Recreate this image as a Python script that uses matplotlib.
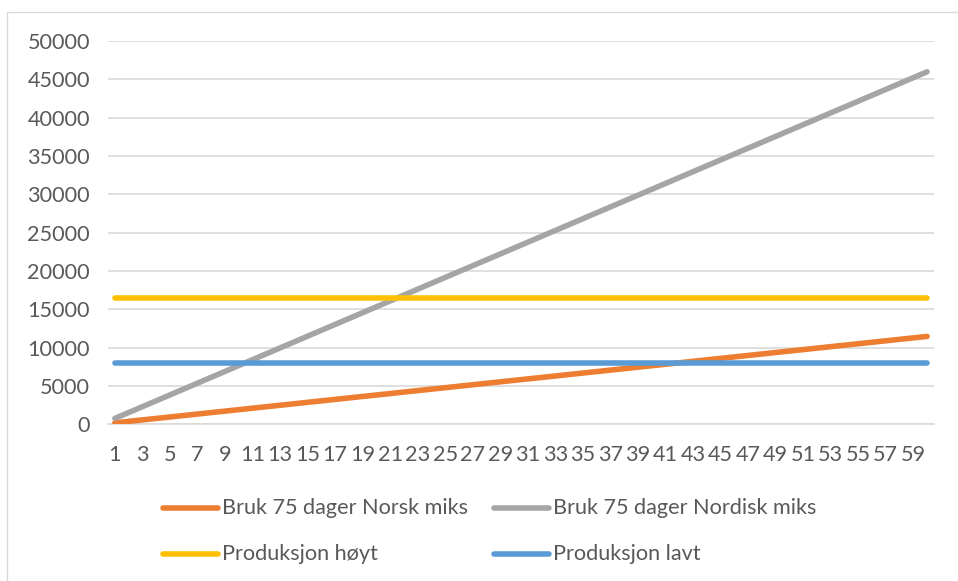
from matplotlib import pyplot as plt
from matplotlib.lines import Line2D
from matplotlib.patches import Rectangle

# days 1..60
days = list(range(1, 61))

# Bruk 75 dager Norsk miks
norsk = [191, 382, 573, 764, 955, 1146, 1337, 1528, 1719, 1910,
         2101, 2292, 2483, 2674, 2865, 3056, 3247, 3438, 3629, 3820,
         4011, 4202, 4393, 4584, 4775, 4966, 5157, 5348, 5539, 5730,
         5921, 6112, 6303, 6494, 6685, 6876, 7067, 7258, 7449, 7640,
         7831, 8022, 8213, 8404, 8595, 8786, 8977, 9168, 9359, 9550,
         9741, 9932, 10123, 10314, 10505, 10696, 10887, 11078, 11269, 11460]

# Bruk 75 dager Nordisk miks
nordisk = [766, 1532, 2298, 3064, 3830, 4596, 5362, 6128, 6894, 7660,
           8426, 9192, 9958, 10724, 11490, 12256, 13022, 13788, 14554, 15320,
           16086, 16852, 17618, 18384, 19150, 19916, 20682, 21448, 22214, 22980,
           23746, 24512, 25278, 26044, 26810, 27576, 28342, 29108, 29874, 30640,
           31406, 32172, 32938, 33704, 34470, 35236, 36002, 36768, 37534, 38300,
           39066, 39832, 40598, 41364, 42130, 42896, 43662, 44428, 45194, 45960]

# Produksjon (flat lines)
prod_hoyt = [16450] * len(days)
prod_lavt = [8000] * len(days)

labels = ['Bruk 75 dager Norsk miks', 'Bruk 75 dager Nordisk miks',
          'Produksjon høyt', 'Produksjon lavt']
colors = ['#ED7D31', '#A5A5A5', '#FFC000', '#5B9BD5']
yticks = [0, 5000, 10000, 15000, 20000, 25000, 30000, 35000, 40000, 45000, 50000]
xticks = days[::2]

plt.rcParams['font.family'] = ['Lato', 'DejaVu Sans']
txt_col = '#595959'
fs = 15.6

fig = plt.figure(figsize=(9.58, 5.81), dpi=100)
W, H = 958, 581
ax = fig.add_axes([108 / W, 1 - 424.3 / H, (934 - 108) / W, (424.3 - 40.8) / H])

# outer chart frame
fig.patches.append(Rectangle((7 / W, -0.05), 1.2, 1 - 12 / H + 0.05,
                             transform=fig.transFigure, fill=False,
                             edgecolor='#D9D9D9', lw=1))

series = [norsk, nordisk, prod_hoyt, prod_lavt]
for vals, c in zip(series, colors):
    ax.plot(days, vals, color=c, lw=4, solid_capstyle='round', zorder=3)

ax.set_xlim(0.5, 60.5)
ax.set_ylim(0, 50000)
ax.set_yticks(yticks)
ax.set_yticklabels([str(v) for v in yticks])
ax.set_xticks(xticks)
ax.set_xticklabels([str(v) for v in xticks])
ax.grid(axis='y', color='#D9D9D9', lw=1.2)
ax.set_axisbelow(True)
for s in ['top', 'right', 'left']:
    ax.spines[s].set_visible(False)
ax.spines['bottom'].set_color('#D9D9D9')
ax.spines['bottom'].set_linewidth(1.2)
ax.tick_params(axis='both', length=0, labelsize=fs, labelcolor=txt_col)
ax.tick_params(axis='y', pad=13)
ax.tick_params(axis='x', pad=15)

# legend, drawn by hand to sit like the Excel one
leg_pos = [(163, 508), (494, 508), (163, 554), (494, 554)]
for (px, py), lab, c in zip(leg_pos, labels, colors):
    fig.add_artist(Line2D([px / W, (px + 55) / W], [1 - py / H, 1 - py / H],
                          transform=fig.transFigure, color=c, lw=4,
                          solid_capstyle='round'))
    fig.text((px + 59) / W, 1 - py / H, lab, fontsize=fs, color=txt_col,
             va='center', ha='left')

plt.savefig('out.png', dpi=100)
